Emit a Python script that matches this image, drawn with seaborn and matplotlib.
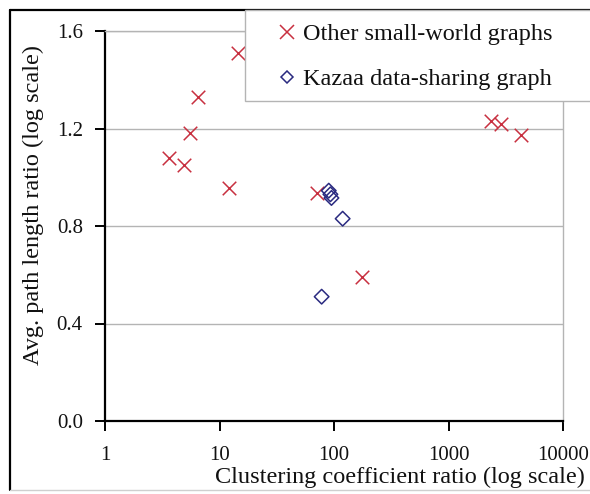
import matplotlib
matplotlib.use("Agg")
import matplotlib.pyplot as plt
import seaborn as sns
import pandas as pd
from matplotlib.patches import Rectangle
from matplotlib.lines import Line2D

# ---- data ----
other_x = [3.6, 4.9, 5.5, 6.5, 12.1, 14.4, 70.5, 177, 2370, 2890, 4320]
other_y = [1.08, 1.05, 1.18, 1.33, 0.955, 1.51, 0.935, 0.59, 1.23, 1.22, 1.175]
kazaa_x = [90, 93, 95, 119, 78]
kazaa_y = [0.945, 0.93, 0.915, 0.83, 0.51]
series_names = ["Other small-world graphs", "Kazaa data-sharing graph"]
y_ticks = [0.0, 0.4, 0.8, 1.2, 1.6]
x_ticks = [1, 10, 100, 1000, 10000]
x_tick_labels = ["1", "10", "100", "1000", "10000"]
x_label = "Clustering coefficient ratio (log scale)"
y_label = "Avg. path length ratio (log scale)"

df = pd.DataFrame({
    "x": other_x + kazaa_x,
    "y": other_y + kazaa_y,
    "series": [series_names[0]] * len(other_x) + [series_names[1]] * len(kazaa_x),
})

sns.set_theme(style="white")
plt.rcParams["font.family"] = ["Liberation Serif", "DejaVu Serif"]

W, H = 590, 494
fig = plt.figure(figsize=(W / 100, H / 100), dpi=100)
ax = fig.add_axes([105 / W, 1 - 421 / H, (563 - 105) / W, (421 - 31) / H])

red = "#c83040"
blue = "#2a2a80"

sns.scatterplot(data=df[df.series == series_names[0]], x="x", y="y", color=red,
                marker="x", s=95, linewidth=1.1, ax=ax, legend=False, zorder=3)
sns.scatterplot(data=df[df.series == series_names[1]], x="x", y="y",
                marker="D", s=55, facecolor="none", edgecolor=blue,
                linewidth=1.1, ax=ax, legend=False, zorder=3)

ax.set_xscale("log")
ax.set_xlim(1, 10000)
ax.set_ylim(0, 1.6)
ax.set_xticks(x_ticks)
ax.set_xticklabels(x_tick_labels)
ax.xaxis.set_minor_locator(matplotlib.ticker.NullLocator())
ax.set_yticks(y_ticks)
ax.set_yticklabels([f"{v:.1f}" for v in y_ticks])

ax.grid(axis="y", color="#b4b4b4", linewidth=1.0)
ax.grid(axis="x", visible=False)
ax.set_axisbelow(True)

for s in ["left", "bottom"]:
    ax.spines[s].set_color("black")
    ax.spines[s].set_linewidth(1.6)
for s in ["top", "right"]:
    ax.spines[s].set_color("#b4b4b4")
    ax.spines[s].set_linewidth(1.0)

tfs = 15
lfs = 17.5
ax.tick_params(axis="both", which="major", direction="out", length=7, width=1.4,
               color="black", labelsize=tfs, labelcolor="#111111")
ax.tick_params(axis="x", pad=11, bottom=True)
ax.tick_params(axis="y", pad=9, left=True)

ax.set_xlabel(x_label, fontsize=lfs, color="#111111")
ax.set_ylabel(y_label, fontsize=lfs, color="#111111")
ax.xaxis.set_label_coords((400 - 105) / 458, (421 - 467) / 390)
ax.yaxis.set_label_coords((44 - 105) / 458, (421 - 205) / 390)

# outer frame
fig.add_artist(Line2D([10 / W, 10 / W], [1 - 10 / H, 1 - 490 / H], color="black", lw=1.6))
fig.add_artist(Line2D([10 / W, 1.0], [1 - 10 / H, 1 - 10 / H], color="black", lw=1.6))
fig.add_artist(Line2D([10 / W, 1.0], [1 - 490 / H, 1 - 490 / H], color="#cfcfcf", lw=1.0))

# legend box
fig.add_artist(Rectangle((245 / W, 1 - 101 / H), (W + 20 - 245) / W, (101 - 10) / H,
                         transform=fig.transFigure, facecolor="white",
                         edgecolor="#b4b4b4", lw=1.0, zorder=4))
handles = [Line2D([], [], color=red, marker="x", linestyle="none", markersize=10, markeredgewidth=1.1),
           Line2D([], [], color=blue, marker="D", linestyle="none", markersize=6.5,
                  markerfacecolor="none", markeredgewidth=1.1)]
leg = fig.legend(handles, series_names, loc="upper left",
                 bbox_to_anchor=(280 / W, 1 - 23 / H), frameon=False, fontsize=lfs,
                 handlelength=0.6, handletextpad=0.35, labelspacing=0.95,
                 borderpad=0.0, borderaxespad=0.0)
leg.set_zorder(5)
for t in leg.get_texts():
    t.set_color("#111111")

fig.savefig("out.png", dpi=100)
